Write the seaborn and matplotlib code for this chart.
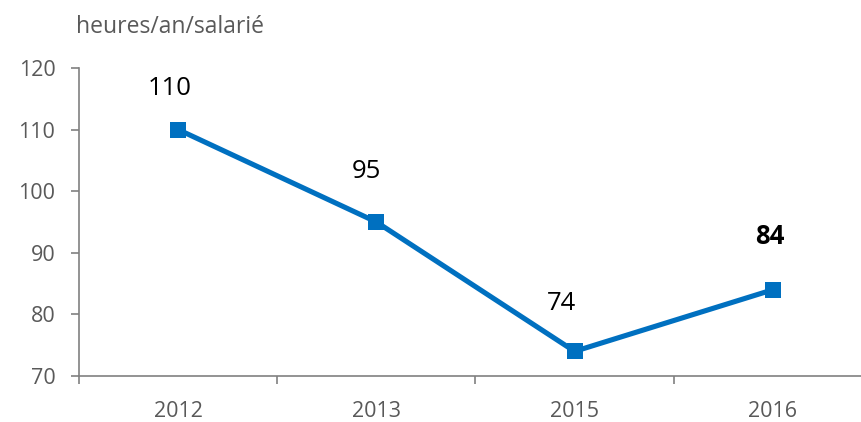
import matplotlib
matplotlib.use("Agg")
import matplotlib.pyplot as plt
import seaborn as sns
import pandas as pd

years = ["2012", "2013", "2015", "2016"]
hours = [110, 95, 74, 84]
bold_label = "2016"
y_ticks = [70, 80, 90, 100, 110, 120]
unit_label = "heures/an/salarié"

# label placement relative to each point, in points
label_offsets = [(-6, 29.5), (-7, 36), (-9.5, 34.5), (-2, 38)]

sns.set_theme(style="white")
plt.rcParams["font.family"] = ["Open Sans", "DejaVu Sans"]

df = pd.DataFrame({"year": years, "hours": hours})

fig = plt.figure(figsize=(8.62, 4.22), dpi=100)
ax = fig.add_axes([0.0916, 0.109, 0.92, 0.730])

blue = "#0070C0"
gray = "#808080"
sns.lineplot(data=df, x="year", y="hours", ax=ax, color=blue, linewidth=3.7,
             marker="s", markersize=12, markeredgewidth=0, sort=False)

ax.set_xlim(-0.5, len(years) - 0.5)
ax.set_ylim(y_ticks[0], y_ticks[-1])
ax.set_yticks(y_ticks)
ax.set_xticks(range(len(years)))
ax.set_xticklabels(years)
ax.set_xlabel("")
ax.set_ylabel("")

for side in ("top", "right"):
    ax.spines[side].set_visible(False)
for side in ("left", "bottom"):
    ax.spines[side].set_color(gray)
    ax.spines[side].set_linewidth(1.2)

ax.tick_params(axis="y", left=True, length=6, width=1.2, color=gray,
               labelsize=15.5, labelcolor="#595959", pad=11)
ax.tick_params(axis="x", bottom=False, labelsize=15.5, labelcolor="#595959", pad=12)

# tick marks between categories
ax.set_xticks([i - 0.5 for i in range(len(years) + 1)], minor=True)
ax.tick_params(axis="x", which="minor", bottom=True, length=6, width=1.2,
               color=gray, direction="out")

for i, (yr, v) in enumerate(zip(years, hours)):
    ax.annotate(str(v), xy=(i, v), xytext=label_offsets[i],
                textcoords="offset points", ha="center", va="center",
                fontsize=18.5, color="black",
                fontweight="bold" if yr == bold_label else "normal")

fig.text(0.088, 0.936, unit_label, fontsize=16.5, color="#595959",
         ha="left", va="center")

fig.savefig("out.png", dpi=100)
